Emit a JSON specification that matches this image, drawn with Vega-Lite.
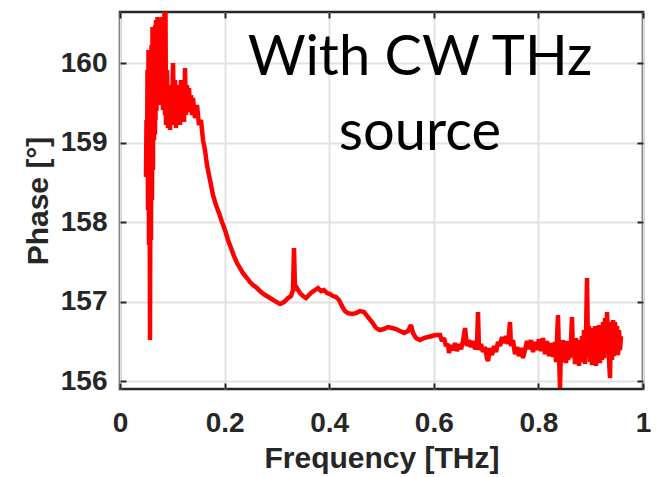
{
  "$schema": "https://vega.github.io/schema/vega-lite/v6.json",
  "width": 523,
  "height": 377,
  "autosize": {"type": "none"},
  "padding": {"left": 120, "top": 12, "right": 15, "bottom": 88},
  "background": "white",
  "config": {
    "view": {"stroke": "#262626", "strokeWidth": 2.5},
    "font": "Liberation Sans"
  },
  "datasets": {
    "phase": [
      {"f": 0.04971, "p": 158.566}, {"f": 0.05067, "p": 159.283}, {"f": 0.05163, "p": 158.717}, {"f": 0.05258, "p": 159.912},
      {"f": 0.05354, "p": 158.151}, {"f": 0.05449, "p": 160.164}, {"f": 0.05545, "p": 157.711}, {"f": 0.05641, "p": 159.660},
      {"f": 0.05736, "p": 156.516}, {"f": 0.05832, "p": 158.906}, {"f": 0.05927, "p": 157.774}, {"f": 0.06023, "p": 160.226},
      {"f": 0.06119, "p": 158.277}, {"f": 0.06214, "p": 160.453}, {"f": 0.06310, "p": 158.654}, {"f": 0.06405, "p": 160.415},
      {"f": 0.06501, "p": 159.031}, {"f": 0.06596, "p": 160.300}, {"f": 0.06692, "p": 159.100}, {"f": 0.06740, "p": 160.478}, {"f": 0.06788, "p": 159.283}, {"f": 0.06883, "p": 160.541},
      {"f": 0.06979, "p": 159.400}, {"f": 0.07075, "p": 160.300}, {"f": 0.07120, "p": 159.535}, {"f": 0.07170, "p": 160.579}, {"f": 0.07266, "p": 159.597}, {"f": 0.07360, "p": 160.400}, {"f": 0.07457, "p": 159.650},
      {"f": 0.07550, "p": 160.566}, {"f": 0.07648, "p": 159.723}, {"f": 0.07744, "p": 160.541}, {"f": 0.07839, "p": 159.472}, {"f": 0.07935, "p": 160.300}, {"f": 0.08031, "p": 159.500},
      {"f": 0.08100, "p": 160.579}, {"f": 0.08222, "p": 159.409}, {"f": 0.08320, "p": 160.400}, {"f": 0.08413, "p": 159.450}, {"f": 0.08500, "p": 160.642}, {"f": 0.08604, "p": 159.346}, {"f": 0.08700, "p": 160.642},
      {"f": 0.08795, "p": 159.220}, {"f": 0.08987, "p": 159.912}, {"f": 0.09178, "p": 159.182}, {"f": 0.09369, "p": 159.660},
      {"f": 0.09560, "p": 159.157}, {"f": 0.09751, "p": 159.723}, {"f": 0.09943, "p": 159.220}, {"f": 0.10134, "p": 160.000},
      {"f": 0.10325, "p": 159.283}, {"f": 0.10516, "p": 159.786}, {"f": 0.10707, "p": 159.182}, {"f": 0.10899, "p": 159.723},
      {"f": 0.11090, "p": 159.283}, {"f": 0.11281, "p": 159.660}, {"f": 0.11472, "p": 159.220}, {"f": 0.11663, "p": 159.786},
      {"f": 0.11855, "p": 159.308}, {"f": 0.12046, "p": 159.723}, {"f": 0.12237, "p": 159.258}, {"f": 0.12428, "p": 159.937},
      {"f": 0.12620, "p": 159.346}, {"f": 0.12811, "p": 159.723}, {"f": 0.13002, "p": 159.409}, {"f": 0.13193, "p": 159.686},
      {"f": 0.13384, "p": 159.384}, {"f": 0.13576, "p": 159.597}, {"f": 0.13767, "p": 159.346}, {"f": 0.13958, "p": 159.560},
      {"f": 0.14340, "p": 159.308}, {"f": 0.14723, "p": 159.472}, {"f": 0.15105, "p": 159.220}, {"f": 0.15488, "p": 159.283},
      {"f": 0.15870, "p": 159.031}, {"f": 0.16252, "p": 158.906}, {"f": 0.16635, "p": 158.717}, {"f": 0.17208, "p": 158.528},
      {"f": 0.17782, "p": 158.340}, {"f": 0.18356, "p": 158.214}, {"f": 0.18929, "p": 158.113}, {"f": 0.19503, "p": 158.000},
      {"f": 0.20076, "p": 157.899}, {"f": 0.20650, "p": 157.774}, {"f": 0.21224, "p": 157.673}, {"f": 0.21797, "p": 157.572},
      {"f": 0.22371, "p": 157.484}, {"f": 0.22945, "p": 157.421}, {"f": 0.23518, "p": 157.358}, {"f": 0.24283, "p": 157.296},
      {"f": 0.24857, "p": 157.245}, {"f": 0.25430, "p": 157.208}, {"f": 0.26195, "p": 157.170}, {"f": 0.26960, "p": 157.120},
      {"f": 0.27725, "p": 157.082}, {"f": 0.28681, "p": 157.044}, {"f": 0.29637, "p": 157.006}, {"f": 0.30593, "p": 156.969},
      {"f": 0.31358, "p": 156.994}, {"f": 0.32122, "p": 157.044}, {"f": 0.32696, "p": 157.069}, {"f": 0.33078, "p": 157.145},
      {"f": 0.33270, "p": 157.673}, {"f": 0.33461, "p": 157.145}, {"f": 0.33843, "p": 157.170}, {"f": 0.34417, "p": 157.107},
      {"f": 0.34990, "p": 157.069}, {"f": 0.35564, "p": 157.044}, {"f": 0.36138, "p": 157.082}, {"f": 0.36711, "p": 157.120},
      {"f": 0.37285, "p": 157.145}, {"f": 0.37859, "p": 157.170}, {"f": 0.38432, "p": 157.132}, {"f": 0.39006, "p": 157.145},
      {"f": 0.39579, "p": 157.107}, {"f": 0.40153, "p": 157.094}, {"f": 0.40727, "p": 157.069}, {"f": 0.41300, "p": 157.057},
      {"f": 0.41874, "p": 157.019}, {"f": 0.42447, "p": 156.943}, {"f": 0.43021, "p": 156.880}, {"f": 0.43595, "p": 156.855},
      {"f": 0.44359, "p": 156.843}, {"f": 0.45124, "p": 156.855}, {"f": 0.45889, "p": 156.880}, {"f": 0.46654, "p": 156.868},
      {"f": 0.47419, "p": 156.805}, {"f": 0.48184, "p": 156.742}, {"f": 0.48948, "p": 156.667}, {"f": 0.49713, "p": 156.642},
      {"f": 0.50478, "p": 156.654}, {"f": 0.51243, "p": 156.679}, {"f": 0.52008, "p": 156.667}, {"f": 0.52773, "p": 156.654},
      {"f": 0.53537, "p": 156.629}, {"f": 0.54302, "p": 156.604}, {"f": 0.55067, "p": 156.629}, {"f": 0.55641, "p": 156.704},
      {"f": 0.56023, "p": 156.604}, {"f": 0.56597, "p": 156.541}, {"f": 0.57361, "p": 156.516}, {"f": 0.58126, "p": 156.541},
      {"f": 0.58891, "p": 156.554}, {"f": 0.59656, "p": 156.566}, {"f": 0.60421, "p": 156.579},
      {"f": 0.61185, "p": 156.579}, {"f": 0.61568, "p": 156.503}, {"f": 0.61950, "p": 156.541}, {"f": 0.62333, "p": 156.440},
      {"f": 0.62715, "p": 156.465}, {"f": 0.62906, "p": 156.352}, {"f": 0.63289, "p": 156.453}, {"f": 0.63671, "p": 156.390},
      {"f": 0.64054, "p": 156.478}, {"f": 0.64436, "p": 156.377}, {"f": 0.64818, "p": 156.465}, {"f": 0.65201, "p": 156.402},
      {"f": 0.65583, "p": 156.503}, {"f": 0.65966, "p": 156.667}, {"f": 0.66348, "p": 156.440}, {"f": 0.66730, "p": 156.516},
      {"f": 0.67113, "p": 156.428}, {"f": 0.67495, "p": 156.503}, {"f": 0.67878, "p": 156.402}, {"f": 0.68260, "p": 156.465},
      {"f": 0.68451, "p": 156.868}, {"f": 0.68642, "p": 156.390}, {"f": 0.69025, "p": 156.465}, {"f": 0.69407, "p": 156.365},
      {"f": 0.69790, "p": 156.428}, {"f": 0.70172, "p": 156.289}, {"f": 0.70363, "p": 156.251}, {"f": 0.70746, "p": 156.415},
      {"f": 0.71128, "p": 156.327}, {"f": 0.71511, "p": 156.440}, {"f": 0.71893, "p": 156.365}, {"f": 0.72275, "p": 156.491},
      {"f": 0.72658, "p": 156.440}, {"f": 0.73040, "p": 156.554}, {"f": 0.73423, "p": 156.478}, {"f": 0.73805, "p": 156.566},
      {"f": 0.74187, "p": 156.465}, {"f": 0.74570, "p": 156.742}, {"f": 0.74761, "p": 156.440}, {"f": 0.75143, "p": 156.516},
      {"f": 0.75526, "p": 156.339}, {"f": 0.75908, "p": 156.428}, {"f": 0.76291, "p": 156.314}, {"f": 0.76673, "p": 156.415},
      {"f": 0.77055, "p": 156.289}, {"f": 0.77438, "p": 156.390}, {"f": 0.77820, "p": 156.503}, {"f": 0.78203, "p": 156.402},
      {"f": 0.78585, "p": 156.516}, {"f": 0.78967, "p": 156.365}, {"f": 0.79350, "p": 156.491}, {"f": 0.79732, "p": 156.390},
      {"f": 0.80115, "p": 156.528}, {"f": 0.80497, "p": 156.377}, {"f": 0.80880, "p": 156.541}, {"f": 0.81262, "p": 156.339},
      {"f": 0.81644, "p": 156.503}, {"f": 0.82027, "p": 156.314}, {"f": 0.82409, "p": 156.478}, {"f": 0.82792, "p": 156.302},
      {"f": 0.83174, "p": 156.491}, {"f": 0.83365, "p": 156.239}, {"f": 0.83556, "p": 156.541}, {"f": 0.83748, "p": 156.830},
      {"f": 0.83939, "p": 156.327}, {"f": 0.84130, "p": 155.912}, {"f": 0.84321, "p": 156.440}, {"f": 0.84512, "p": 156.239},
      {"f": 0.84704, "p": 156.516}, {"f": 0.84895, "p": 156.289}, {"f": 0.85086, "p": 156.478}, {"f": 0.85277, "p": 156.226},
      {"f": 0.85468, "p": 156.503}, {"f": 0.85660, "p": 156.264}, {"f": 0.85851, "p": 156.453}, {"f": 0.86042, "p": 156.289},
      {"f": 0.86233, "p": 156.491}, {"f": 0.86424, "p": 156.805}, {"f": 0.86616, "p": 156.314}, {"f": 0.86807, "p": 156.516},
      {"f": 0.86998, "p": 156.214}, {"f": 0.87189, "p": 156.541}, {"f": 0.87380, "p": 156.264}, {"f": 0.87572, "p": 156.478},
      {"f": 0.87763, "p": 156.189}, {"f": 0.87954, "p": 156.516}, {"f": 0.88145, "p": 156.239}, {"f": 0.88337, "p": 156.566},
      {"f": 0.88528, "p": 156.264}, {"f": 0.88719, "p": 156.642}, {"f": 0.88910, "p": 156.214}, {"f": 0.89101, "p": 156.541},
      {"f": 0.89293, "p": 157.296}, {"f": 0.89484, "p": 156.390}, {"f": 0.89675, "p": 156.692}, {"f": 0.89866, "p": 156.239},
      {"f": 0.90057, "p": 156.667}, {"f": 0.90249, "p": 156.201}, {"f": 0.90440, "p": 156.642}, {"f": 0.90631, "p": 156.264},
      {"f": 0.90822, "p": 156.692}, {"f": 0.91013, "p": 156.189}, {"f": 0.91205, "p": 156.616}, {"f": 0.91396, "p": 156.289},
      {"f": 0.91587, "p": 156.704}, {"f": 0.91778, "p": 156.226}, {"f": 0.91969, "p": 156.642}, {"f": 0.92161, "p": 156.264},
      {"f": 0.92352, "p": 156.742}, {"f": 0.92543, "p": 156.289}, {"f": 0.92734, "p": 156.792}, {"f": 0.92925, "p": 156.365},
      {"f": 0.93117, "p": 156.868}, {"f": 0.93308, "p": 156.516}, {"f": 0.93499, "p": 156.264}, {"f": 0.93690, "p": 156.038},
      {"f": 0.93881, "p": 156.742}, {"f": 0.94073, "p": 156.264}, {"f": 0.94264, "p": 156.767}, {"f": 0.94455, "p": 156.314},
      {"f": 0.94646, "p": 156.742}, {"f": 0.94837, "p": 156.365}, {"f": 0.95029, "p": 156.692}, {"f": 0.95220, "p": 156.327},
      {"f": 0.95411, "p": 156.642}, {"f": 0.95602, "p": 156.390}, {"f": 0.95793, "p": 156.566}
    ],
    "note": [
      {"f": 0.5736, "p": 159.849, "label": "With CW THz"},
      {"f": 0.5736, "p": 158.906, "label": "source"}
    ]
  },
  "layer": [
    {
      "data": {"name": "phase"},
      "mark": {"type": "line", "color": "#ff0000", "strokeWidth": 4.5, "clip": true, "strokeJoin": "miter", "strokeMiterLimit": 2},
      "encoding": {
        "x": {
          "field": "f", "type": "quantitative",
          "scale": {"domain": [0, 1], "nice": false, "zero": false},
          "axis": {
            "orient": "bottom", "title": "Frequency [THz]",
            "values": [0, 0.2, 0.4, 0.6, 0.8, 1], "format": "~g",
            "domain": false, "grid": true, "gridColor": "#e2e2e2", "gridWidth": 2,
            "ticks": true, "tickSize": -6, "tickWidth": 2, "tickColor": "#262626",
            "labelFont": "Liberation Sans", "labelFontSize": 28, "labelFontWeight": "bold", "labelColor": "#262626",
            "labelPadding": 26, "labelOverlap": false, "labelFlush": false,
            "titleFont": "Liberation Sans", "titleFontSize": 30, "titleFontWeight": "bold", "titleColor": "#262626",
            "titlePadding": 6
          }
        },
        "y": {
          "field": "p", "type": "quantitative",
          "scale": {"domain": [155.9, 160.642], "nice": false, "zero": false},
          "axis": {
            "orient": "left", "title": "Phase [°]",
            "values": [156, 157, 158, 159, 160], "format": "d",
            "domain": false, "grid": true, "gridColor": "#e2e2e2", "gridWidth": 2,
            "ticks": true, "tickSize": -6, "tickWidth": 2, "tickColor": "#262626",
            "labelFont": "Liberation Sans", "labelFontSize": 28, "labelFontWeight": "bold", "labelColor": "#262626",
            "labelPadding": 19, "labelOverlap": false, "labelFlush": false,
            "titleFont": "Liberation Sans", "titleFontSize": 30, "titleFontWeight": "bold", "titleColor": "#262626",
            "titlePadding": 7
          }
        }
      }
    },
    {
      "data": {"name": "note"},
      "mark": {"type": "text", "font": "Lato", "fontSize": 56, "color": "#000000", "align": "center", "baseline": "alphabetic"},
      "encoding": {
        "x": {
          "field": "f", "type": "quantitative",
          "scale": {"domain": [0, 1], "nice": false, "zero": false},
          "axis": {"orient": "top", "title": null, "values": [0, 0.2, 0.4, 0.6, 0.8, 1], "labels": false, "domain": false, "grid": false,
                   "ticks": true, "tickSize": -6, "tickWidth": 2, "tickColor": "#262626"}
        },
        "y": {
          "field": "p", "type": "quantitative",
          "scale": {"domain": [155.9, 160.642], "nice": false, "zero": false},
          "axis": {"orient": "right", "title": null, "values": [156, 157, 158, 159, 160], "labels": false, "domain": false, "grid": false,
                   "ticks": true, "tickSize": -6, "tickWidth": 2, "tickColor": "#262626"}
        },
        "text": {"field": "label", "type": "nominal"}
      }
    }
  ],
  "resolve": {"axis": {"x": "independent", "y": "independent"}}
}
